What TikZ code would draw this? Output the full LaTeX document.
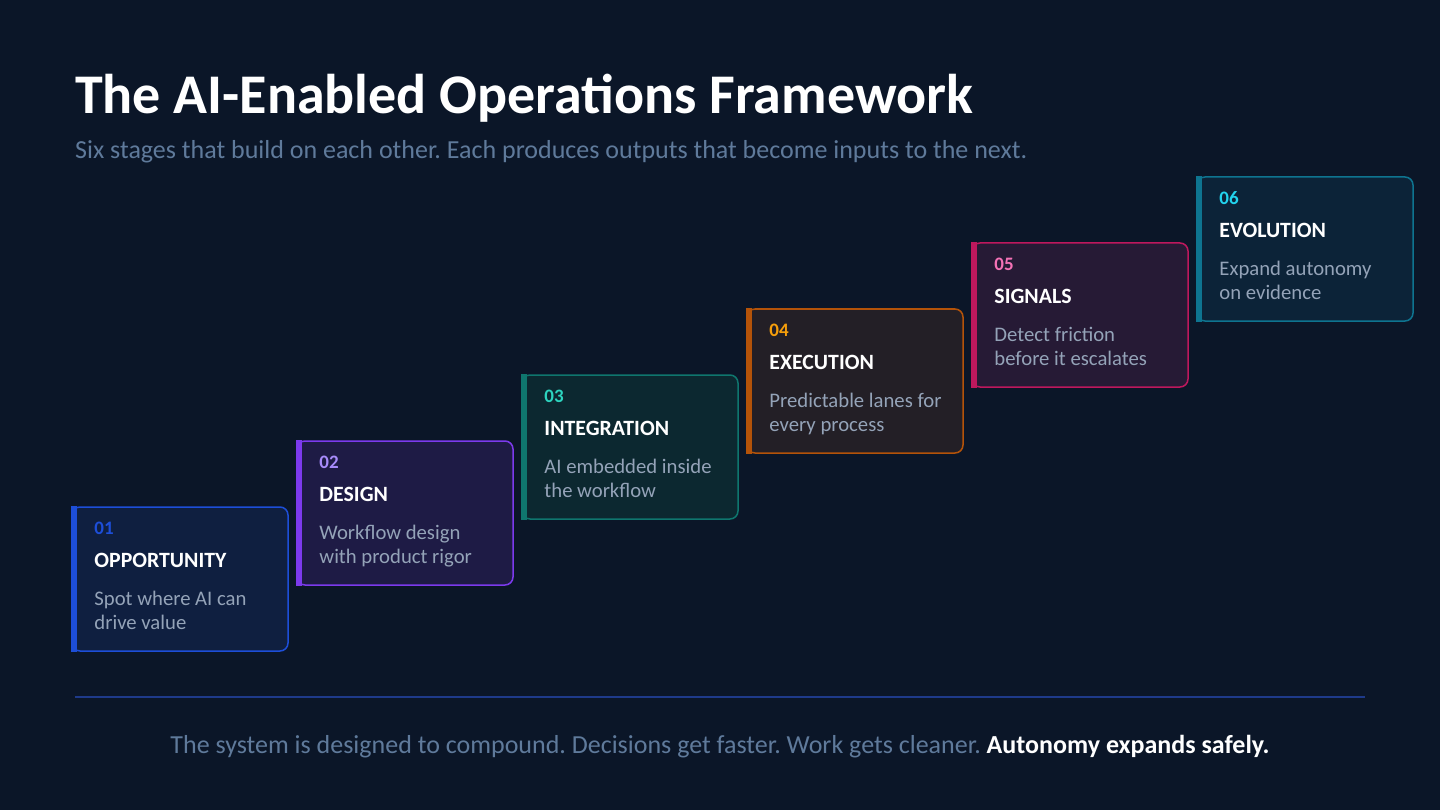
\documentclass[tikz,border=0pt]{standalone}
\usepackage{fontspec}
\setmainfont{Carlito}
\frenchspacing
\definecolor{bg}{HTML}{0B1628}
\definecolor{subtxt}{HTML}{5F7A9B}
\definecolor{desctxt}{HTML}{94A3B8}
\definecolor{rule}{HTML}{1E3A8A}
\definecolor{saline}{HTML}{1D4ED8}\definecolor{safill}{HTML}{0F1F40}\definecolor{sanum}{HTML}{1D4ED8}
\definecolor{sbline}{HTML}{7C3AED}\definecolor{sbfill}{HTML}{1E1B45}\definecolor{sbnum}{HTML}{A78BFA}
\definecolor{scline}{HTML}{0F766E}\definecolor{scfill}{HTML}{0C2830}\definecolor{scnum}{HTML}{2DD4BF}
\definecolor{sdline}{HTML}{B45309}\definecolor{sdfill}{HTML}{231F26}\definecolor{sdnum}{HTML}{F59E0B}
\definecolor{seline}{HTML}{BE185D}\definecolor{sefill}{HTML}{261A35}\definecolor{senum}{HTML}{F472B6}
\definecolor{sfline}{HTML}{0E7490}\definecolor{sffill}{HTML}{0C2338}\definecolor{sfnum}{HTML}{22D3EE}
\tikzset{
  stagebox/.style={rectangle, rounded corners=8pt, line width=1.5pt, minimum width=216pt, minimum height=144pt, inner sep=0pt},
  numtxt/.style={anchor=base west, inner sep=0pt, font=\fontsize{19}{22}\selectfont\bfseries},
  ttltxt/.style={anchor=base west, inner sep=0pt, text=white, font=\fontsize{21.8}{26}\selectfont\bfseries},
  dsctxt/.style={anchor=base west, inner sep=0pt, text=desctxt, font=\fontsize{20.7}{25}\selectfont},
}
\newcommand\stagecard[8]{%
  \node[stagebox, draw=#4line, fill=#4fill] (#1) at (#2+108,#3+72) {};
  \fill[#4line] ([xshift=-0.75pt]#1.north west) rectangle ([xshift=6pt]#1.south west);
  \node[numtxt, text=#4num] (#1-num) at ([xshift=23pt,yshift=-28pt]#1.north west) {#5};
  \node[ttltxt] (#1-ttl) at ([xshift=23pt,yshift=-61pt]#1.north west) {#6};
  \node[dsctxt] (#1-d1) at ([xshift=23pt,yshift=-99pt]#1.north west) {#7};
  \node[dsctxt] (#1-d2) at ([xshift=23pt,yshift=-123.5pt]#1.north west) {#8};
}
\begin{document}
\begin{tikzpicture}[x=1pt,y=-1pt]
\fill[bg] (0,0) rectangle (1440,810);
\useasboundingbox (0,0) rectangle (1440,810);
\node[anchor=base west, inner sep=0pt, text=white, font=\fontsize{56}{62}\selectfont\bfseries] (title) at (75,114) {The AI-Enabled Operations Framework};
\node[anchor=base west, inner sep=0pt, text=subtxt, font=\fontsize{26}{30}\selectfont] (subtitle) at (75,159) {Six stages that build on each other. Each produces outputs that become inputs to the next.};
\stagecard{s1}{72}{507}{sa}{01}{OPPORTUNITY}{Spot where AI can}{drive value}
\stagecard{s2}{297}{441}{sb}{02}{DESIGN}{Workflow design}{with product rigor}
\stagecard{s3}{522}{375}{sc}{03}{INTEGRATION}{AI embedded inside}{the workflow}
\stagecard{s4}{747}{309}{sd}{04}{EXECUTION}{Predictable lanes for}{every process}
\stagecard{s5}{972}{243}{se}{05}{SIGNALS}{Detect friction}{before it escalates}
\stagecard{s6}{1197}{177}{sf}{06}{EVOLUTION}{Expand autonomy}{on evidence}
\coordinate (ruleL) at (75,697);
\coordinate (ruleR) at (1365,697);
\draw[rule, line width=2pt] (ruleL) -- (ruleR);
\node[anchor=base, inner sep=0pt, text=subtxt, font=\fontsize{26}{30}\selectfont] (footer) at (720,753) {The system is designed to compound. Decisions get faster. Work gets cleaner. \textbf{\color{white}Autonomy expands safely.}};
\end{tikzpicture}
\end{document}
